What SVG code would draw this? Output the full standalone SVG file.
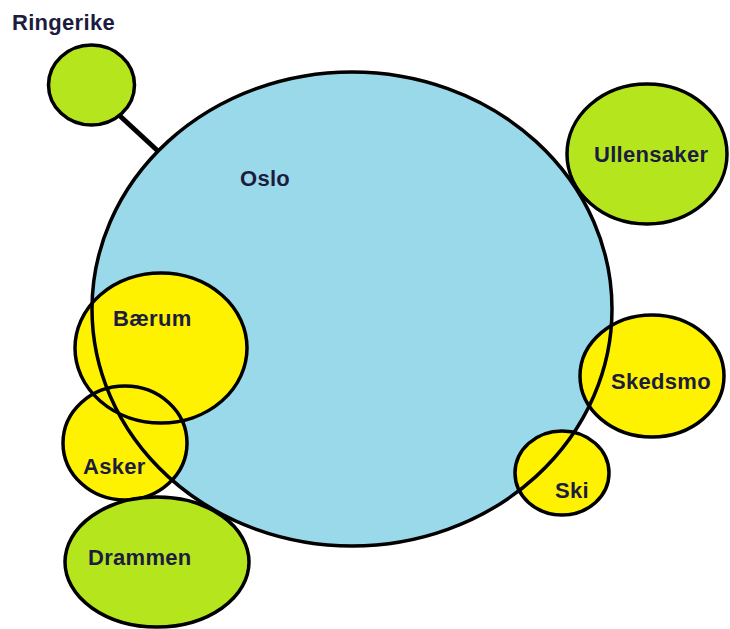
<svg xmlns="http://www.w3.org/2000/svg" xmlns:xlink="http://www.w3.org/1999/xlink" width="730" height="629" viewBox="0 0 730 629">
<style>
.ol{fill:none;stroke:#000;stroke-width:3.5}
.blue{fill:#99d9ea}
.green{fill:#b5e61d;stroke:#000;stroke-width:3.5}
.yellow{fill:#fff200}
text{font-family:"Liberation Sans",Arial,sans-serif;font-weight:bold;font-size:22px;letter-spacing:0.3px;fill:#1c1c3e}
</style>
<defs>
<ellipse id="e-oslo" cx="352" cy="309" rx="260" ry="237"/>
<ellipse id="e-baerum" cx="161" cy="348" rx="86" ry="75"/>
<ellipse id="e-asker" cx="125" cy="443" rx="62" ry="57"/>
<ellipse id="e-skedsmo" cx="652" cy="376" rx="72" ry="61"/>
<ellipse id="e-ski" cx="562" cy="473" rx="47" ry="42"/>
</defs>
<g id="connectors">
<line x1="120" y1="116" x2="159" y2="152" stroke="#000" stroke-width="5"/>
</g>
<g id="oslo">
<use xlink:href="#e-oslo" class="blue"/>
</g>
<g id="baerum">
<use xlink:href="#e-baerum" class="yellow"/>
</g>
<g id="asker">
<use xlink:href="#e-asker" class="yellow"/>
</g>
<g id="skedsmo">
<use xlink:href="#e-skedsmo" class="yellow"/>
</g>
<g id="ski">
<use xlink:href="#e-ski" class="yellow"/>
</g>
<g id="outlines">
<use xlink:href="#e-oslo" class="ol"/>
<use xlink:href="#e-baerum" class="ol"/>
<use xlink:href="#e-asker" class="ol"/>
<use xlink:href="#e-skedsmo" class="ol"/>
<use xlink:href="#e-ski" class="ol"/>
</g>
<g id="ringerike">
<ellipse cx="91.5" cy="85" rx="43" ry="40" class="green"/>
<text x="12" y="30">Ringerike</text>
</g>
<g id="ullensaker">
<ellipse cx="647" cy="154" rx="80" ry="70" class="green"/>
<text x="594" y="162">Ullensaker</text>
</g>
<g id="drammen">
<ellipse cx="157" cy="562" rx="92" ry="65" class="green"/>
<text x="88" y="565">Drammen</text>
</g>
<g id="labels">
<text x="240" y="186">Oslo</text>
<text x="113" y="326">Bærum</text>
<text x="83" y="474">Asker</text>
<text x="611" y="389">Skedsmo</text>
<text x="555" y="498">Ski</text>
</g>
</svg>
